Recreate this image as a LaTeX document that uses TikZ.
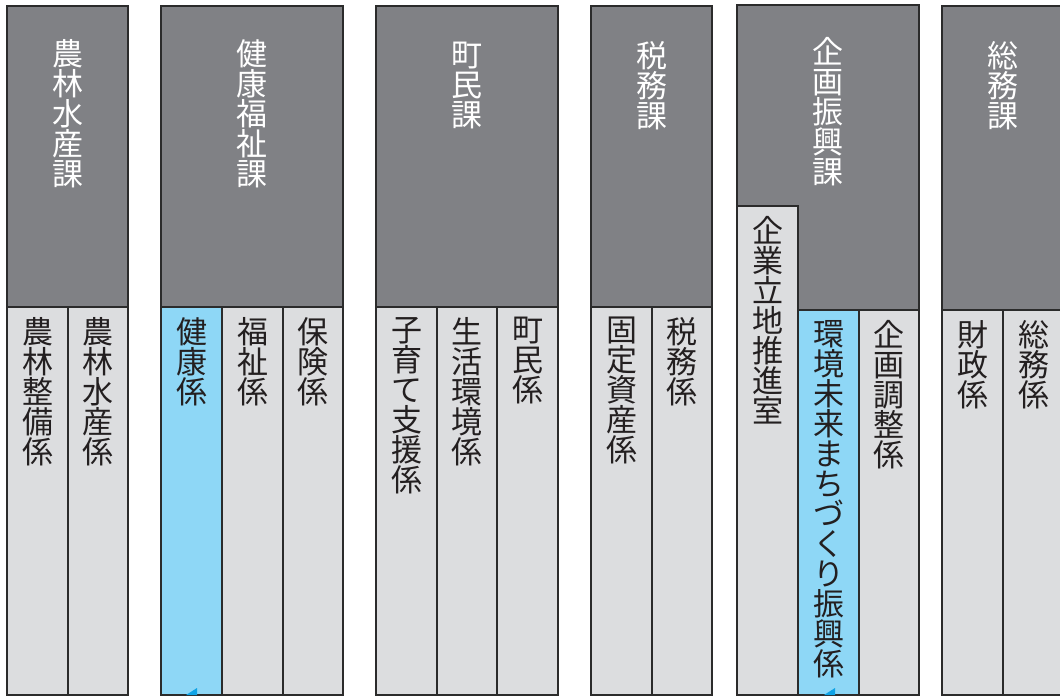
\documentclass[tikz,border=0pt]{standalone}
\usepackage{fontspec}
\setmainfont{Noto Sans CJK JP}

\definecolor{kagray}{HTML}{808185}
\definecolor{kalight}{HTML}{DCDDDF}
\definecolor{kablue}{HTML}{8ED7F6}
\definecolor{kamark}{HTML}{0FA3E6}
\definecolor{kaline}{HTML}{2B2B2B}
\definecolor{katext}{HTML}{231F20}

% vertical (tate) text: one character per line
\def\tatestep#1{\ifx\relax#1\else\hbox to 1em{\hss#1\hss}\expandafter\tatestep\fi}
\newcommand\tate[1]{\vbox{\baselineskip=30pt\lineskiplimit=-30pt\tatestep#1\relax}}

\tikzset{
  kabox/.style={fill=kagray,draw=kaline,line width=1.6pt},
  kakaribox/.style={fill=kalight,draw=kaline,line width=1.6pt},
  kaname/.style={anchor=north,inner sep=0pt,text=white,font=\fontsize{31}{30}\selectfont},
  kakariname/.style={anchor=north,inner sep=0pt,text=katext,font=\fontsize{31}{30}\selectfont},
}

\begin{document}
\begin{tikzpicture}[x=1pt,y=-1pt]
    \useasboundingbox (0,0) rectangle (1060,698);

    % headers
    \draw[kabox] (7,6) rectangle (128,307);
    \draw[kabox] (161,6) rectangle (343,307);
    \draw[kabox] (376,6) rectangle (558,307);
    \draw[kabox] (591,6) rectangle (712,307);
    \draw[kabox] (737,5) rectangle (919,310);
    \draw[kabox] (942,6) rectangle (1064,310);

    % sections
    \draw[kakaribox] (7,307) rectangle (68,695);
    \draw[kakaribox] (68,307) rectangle (128,695);
    \draw[kakaribox, fill=kablue] (161,307) rectangle (222,695);
    \draw[kakaribox] (222,307) rectangle (283,695);
    \draw[kakaribox] (283,307) rectangle (343,695);
    \draw[kakaribox] (376,307) rectangle (437,695);
    \draw[kakaribox] (437,307) rectangle (497,695);
    \draw[kakaribox] (497,307) rectangle (558,695);
    \draw[kakaribox] (591,307) rectangle (652,695);
    \draw[kakaribox] (652,307) rectangle (712,695);
    \draw[kakaribox] (737,206) rectangle (798,695);
    \draw[kakaribox, fill=kablue] (798,310) rectangle (859,695);
    \draw[kakaribox] (859,310) rectangle (919,695);
    \draw[kakaribox] (942,310) rectangle (1003,695);
    \draw[kakaribox] (1003,310) rectangle (1064,695);

    % small marks
    \fill[kamark] (197,688) -- (197,695) -- (186,695) -- cycle;
    \fill[kamark] (835,688) -- (835,695) -- (824,695) -- cycle;

    % header names
    \node[kaname] (nourinka) at (67.5,39) {\tate{農林水産課}};
    \node[kaname] (kenkoka) at (252,39) {\tate{健康福祉課}};
    \node[kaname] (chominka) at (467,42) {\tate{町民課}};
    \node[kaname] (zeimuka) at (651.5,41) {\tate{税務課}};
    \node[kaname] (kikakuka) at (828,37) {\tate{企画振興課}};
    \node[kaname] (somuka) at (1003,41) {\tate{総務課}};

    % section names
    \node[kakariname] (seibi) at (37.5,317) {\tate{農林整備係}};
    \node[kakariname] (suisan) at (98,317) {\tate{農林水産係}};
    \node[kakariname] (kenko) at (191.5,317) {\tate{健康係}};
    \node[kakariname] (fukushi) at (252.5,317) {\tate{福祉係}};
    \node[kakariname] (hoken) at (313,317) {\tate{保険係}};
    \node[kakariname] (kosodate) at (406.5,317) {\tate{子育て支援係}};
    \node[kakariname] (seikatsu) at (467,317) {\tate{生活環境係}};
    \node[kakariname] (chomin) at (527.5,317) {\tate{町民係}};
    \node[kakariname] (kotei) at (621.5,317) {\tate{固定資産係}};
    \node[kakariname] (zeimu) at (682,317) {\tate{税務係}};
    \node[kakariname] (ricchi) at (767.5,216) {\tate{企業立地推進室}};
    \node[kakariname] (mirai) at (828.5,320) {\tate{環境未来まちづくり振興係}};
    \node[kakariname] (chosei) at (889,320) {\tate{企画調整係}};
    \node[kakariname] (zaisei) at (972.5,320) {\tate{財政係}};
    \node[kakariname] (somu) at (1033.5,320) {\tate{総務係}};
\end{tikzpicture}
\end{document}
